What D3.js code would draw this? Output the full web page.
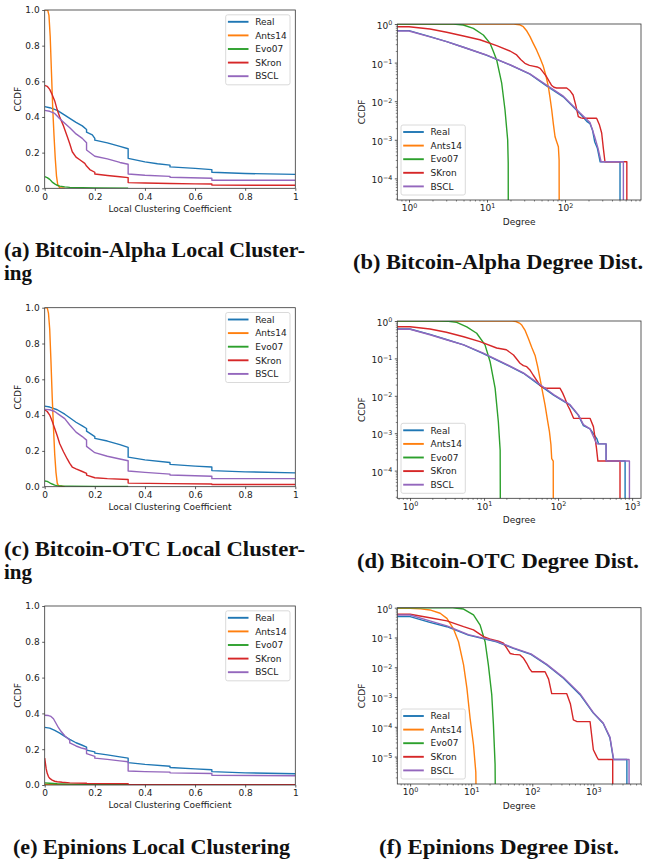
<!DOCTYPE html>
<html>
<head>
<meta charset="utf-8">
<script src="https://cdn.jsdelivr.net/npm/d3@7"></script>
<style>
body { margin: 0; background: #fff; }
svg { display: block; }
text { font-family: "DejaVu Sans", sans-serif; }
</style>
</head>
<body>
<svg id="fig" width="652" height="861"></svg>
<script>
var seriesNames = ["Real", "Ants14", "Evo07", "SKron", "BSCL"]
var seriesColors = ["#1f77b4", "#ff7f0e", "#2ca02c", "#d62728", "#9467bd"]

var lccTicks = [0, 0.2, 0.4, 0.6, 0.8, 1]
var lccTickLabelsX = ["0", "0.2", "0.4", "0.6", "0.8", "1"]
var lccTickLabelsY = ["0.0", "0.2", "0.4", "0.6", "0.8", "1.0"]

// (a) Bitcoin-Alpha local clustering, [coefficient, ccdf]
var alphaLccReal = [[0,0.458],[0.02,0.452],[0.05,0.437],[0.08,0.41],[0.1,0.392],[0.125,0.37],[0.15,0.35],[0.167,0.33],[0.167,0.315],[0.19,0.3],[0.2,0.28],[0.2,0.27],[0.25,0.255],[0.3,0.235],[0.333,0.222],[0.333,0.168],[0.4,0.148],[0.45,0.138],[0.5,0.13],[0.5,0.12],[0.6,0.112],[0.667,0.105],[0.667,0.09],[0.8,0.083],[1,0.078]]
var alphaLccAnts = [[0,1],[0.012,1],[0.017,0.97],[0.022,0.85],[0.027,0.65],[0.032,0.45],[0.037,0.3],[0.042,0.17],[0.047,0.07],[0.052,0.02],[0.06,0.003],[0.08,0]]
var alphaLccEvo = [[0,0.065],[0.01,0.06],[0.02,0.05],[0.03,0.035],[0.04,0.025],[0.05,0.017],[0.06,0.012],[0.08,0.008],[0.1,0.005],[0.15,0.003],[0.2,0.002],[0.333,0.001]]
var alphaLccSKron = [[0,0.577],[0.01,0.572],[0.02,0.555],[0.03,0.525],[0.04,0.49],[0.05,0.44],[0.06,0.4],[0.075,0.35],[0.09,0.29],[0.1,0.25],[0.11,0.205],[0.125,0.175],[0.14,0.16],[0.16,0.14],[0.167,0.125],[0.18,0.105],[0.2,0.09],[0.2,0.08],[0.25,0.072],[0.3,0.065],[0.333,0.06],[0.333,0.032],[0.4,0.03],[0.5,0.027],[0.6,0.025],[0.667,0.024],[0.667,0.018],[1,0.017]]
var alphaLccBSCL = [[0,0.437],[0.02,0.432],[0.04,0.42],[0.06,0.39],[0.08,0.365],[0.1,0.34],[0.125,0.305],[0.15,0.28],[0.167,0.255],[0.167,0.215],[0.2,0.18],[0.25,0.165],[0.3,0.145],[0.333,0.135],[0.333,0.08],[0.4,0.073],[0.5,0.067],[0.5,0.062],[0.667,0.056],[0.667,0.045],[1,0.045]]

// (b) Bitcoin-Alpha degree, [degree, ccdf]
var alphaDegReal = [[0.5,0.675],[1,0.675],[1.86,0.47],[3.04,0.35],[5,0.25],[9.6,0.158],[19.7,0.087],[35.5,0.05],[58,0.025],[95,0.013],[155,0.0048],[190,0.003],[209,0.0026],[225,0.0018],[240,8.9e-4],[260,6e-4],[282,2.7e-4],[507,2.7e-4],[507,1e-7]]
var alphaDegAnts = [[0.5,1],[22,1],[26,0.96],[29.2,0.85],[32,0.68],[35.6,0.47],[39,0.32],[43.3,0.21],[48,0.13],[52.7,0.08],[57,0.045],[61.1,0.024],[64,0.013],[67.5,0.006],[71,0.0025],[74.5,0.0012],[78,9e-4],[82.2,6.6e-4],[84,3e-4],[84.6,1e-7]]
var alphaDegEvo = [[0.5,1],[3.7,1],[4.97,0.94],[6.68,0.77],[8.97,0.52],[10.9,0.32],[12,0.2],[13.3,0.117],[15.4,0.03],[17,0.006],[18.4,0.001],[18.7,2.5e-4],[18.8,1e-7]]
var alphaDegSKron = [[0.5,0.85],[1,0.85],[1.86,0.74],[3.04,0.61],[5,0.49],[8.1,0.39],[13.3,0.275],[19.7,0.2],[24,0.158],[27,0.12],[30.6,0.096],[35,0.085],[39,0.081],[44,0.077],[48,0.071],[53,0.055],[58,0.043],[63,0.032],[67,0.026],[72,0.023],[78,0.022],[105,0.022],[115,0.019],[127,0.0145],[137,0.008],[148,0.004],[160,0.0037],[171,0.0036],[254,0.0036],[275,0.0025],[295,0.0015],[310,6e-4],[325,2.7e-4],[620,2.7e-4],[620,1e-7]]
var alphaDegBSCL = [[0.5,0.66],[1,0.66],[1.86,0.465],[3.04,0.348],[5,0.25],[9.6,0.16],[19.7,0.088],[35.5,0.051],[58,0.026],[95,0.0135],[155,0.005],[209,0.0028],[240,0.0012],[265,6e-4],[290,2.7e-4],[560,2.7e-4],[560,1e-7]]

// (c) Bitcoin-OTC local clustering
var otcLccReal = [[0,0.45],[0.02,0.445],[0.05,0.43],[0.08,0.405],[0.1,0.385],[0.125,0.36],[0.15,0.34],[0.167,0.325],[0.167,0.31],[0.2,0.28],[0.2,0.27],[0.25,0.255],[0.3,0.235],[0.333,0.22],[0.333,0.165],[0.4,0.15],[0.5,0.135],[0.5,0.125],[0.6,0.115],[0.667,0.11],[0.667,0.09],[0.8,0.083],[1,0.077]]
var otcLccAnts = [[0,1],[0.01,1],[0.015,0.97],[0.02,0.88],[0.025,0.7],[0.03,0.5],[0.035,0.33],[0.04,0.18],[0.045,0.08],[0.05,0.02],[0.055,0.005],[0.08,0]]
var otcLccEvo = [[0,0.032],[0.01,0.03],[0.02,0.022],[0.03,0.015],[0.04,0.009],[0.05,0.006],[0.07,0.004],[0.1,0.003],[0.2,0.002],[0.333,0.001]]
var otcLccSKron = [[0,0.43],[0.01,0.42],[0.02,0.4],[0.03,0.365],[0.04,0.325],[0.05,0.285],[0.06,0.24],[0.075,0.195],[0.09,0.155],[0.1,0.13],[0.11,0.11],[0.125,0.1],[0.15,0.085],[0.167,0.075],[0.167,0.065],[0.2,0.05],[0.25,0.045],[0.333,0.04],[0.333,0.02],[0.5,0.017],[0.667,0.015],[0.667,0.012],[1,0.012]]
var otcLccBSCL = [[0,0.432],[0.02,0.43],[0.04,0.42],[0.06,0.4],[0.08,0.38],[0.1,0.345],[0.125,0.305],[0.15,0.28],[0.167,0.26],[0.167,0.225],[0.2,0.19],[0.25,0.17],[0.3,0.155],[0.333,0.145],[0.333,0.088],[0.4,0.08],[0.5,0.07],[0.5,0.065],[0.667,0.058],[0.667,0.045],[1,0.045]]

// (d) Bitcoin-OTC degree
var otcDegReal = [[0.5,0.61],[1,0.61],[1.86,0.44],[3.1,0.32],[5.3,0.23],[9.6,0.136],[18.3,0.074],[34,0.04],[57,0.019],[87,0.0104],[145,0.0056],[188,0.003],[220,0.0016],[270,0.0013],[333,7.2e-4],[352,5.2e-4],[445,5.2e-4],[445,1.8e-4],[804,1.8e-4],[804,1e-7]]
var otcDegAnts = [[0.5,1],[24,1],[27,0.97],[30,0.88],[32.3,0.78],[36,0.55],[39.7,0.34],[44,0.2],[48.9,0.12],[53,0.06],[57,0.029],[62,0.012],[66.7,0.0056],[72,0.0022],[76.4,0.0011],[80,5e-4],[82,2.1e-4],[86,1.8e-4],[86.5,1e-7]]
var otcDegEvo = [[0.5,1],[2.5,1],[3.3,0.98],[4.27,0.92],[5.84,0.7],[7.95,0.47],[10.3,0.23],[12.1,0.08],[14.1,0.016],[15.6,0.002],[16.5,3.5e-4],[16.7,1e-7]]
var otcDegSKron = [[0.5,0.7],[1,0.7],[1.86,0.61],[3.1,0.5],[5.3,0.38],[8.8,0.28],[14.8,0.19],[20,0.17],[25,0.123],[30.6,0.074],[34,0.064],[37.7,0.06],[42,0.048],[46,0.036],[52,0.025],[57,0.019],[63,0.0165],[70,0.016],[106,0.016],[115,0.012],[124,0.0085],[135,0.0055],[145,0.0042],[162,0.0025],[270,0.0025],[300,0.0015],[330,4e-4],[345,1.8e-4],[686,1.8e-4],[686,1e-7]]
var otcDegBSCL = [[0.5,0.6],[1,0.6],[1.86,0.43],[3.1,0.315],[5.3,0.23],[9.6,0.14],[18.3,0.076],[34,0.041],[57,0.02],[87,0.0108],[145,0.0058],[188,0.0031],[220,0.0017],[270,0.0013],[333,5.2e-4],[445,5.2e-4],[445,1.8e-4],[920,1.8e-4],[920,1e-7]]

// (e) Epinions local clustering
var epiLccReal = [[0,0.322],[0.02,0.318],[0.04,0.305],[0.06,0.29],[0.08,0.272],[0.1,0.255],[0.125,0.236],[0.15,0.222],[0.167,0.212],[0.167,0.195],[0.2,0.185],[0.2,0.178],[0.25,0.168],[0.3,0.157],[0.333,0.15],[0.333,0.125],[0.4,0.115],[0.5,0.105],[0.5,0.098],[0.6,0.09],[0.667,0.085],[0.667,0.075],[0.8,0.068],[1,0.063]]
var epiLccAnts = [[0,0.004],[0.05,0.002],[0.1,0.001],[0.2,0]]
var epiLccEvo = [[0,0.012],[0.02,0.01],[0.05,0.007],[0.1,0.005],[0.167,0.004],[0.2,0.003],[0.333,0.003]]
var epiLccSKron = [[0,0.15],[0.003,0.12],[0.006,0.09],[0.01,0.065],[0.015,0.047],[0.02,0.037],[0.03,0.027],[0.04,0.021],[0.05,0.018],[0.07,0.015],[0.1,0.012],[0.167,0.01],[0.167,0.008],[0.333,0.007],[0.333,0.003],[1,0.002]]
var epiLccBSCL = [[0,0.39],[0.015,0.388],[0.025,0.383],[0.035,0.37],[0.045,0.345],[0.055,0.32],[0.065,0.3],[0.08,0.275],[0.1,0.25],[0.1,0.235],[0.125,0.218],[0.15,0.205],[0.167,0.2],[0.167,0.175],[0.2,0.16],[0.2,0.15],[0.25,0.143],[0.3,0.135],[0.333,0.13],[0.333,0.078],[0.4,0.075],[0.5,0.072],[0.5,0.068],[0.667,0.064],[0.667,0.054],[1,0.052]]

// (f) Epinions degree
var epiDegReal = [[0.5,0.5],[1,0.5],[2.1,0.32],[4,0.23],[9,0.12],[26,0.072],[49,0.043],[95,0.027],[173,0.012],[324,0.0043],[605,0.0012],[1000,2.9e-4],[1450,1.3e-4],[1870,4.2e-5],[2130,8e-6],[3540,8e-6],[3540,1e-8]]
var epiDegAnts = [[0.5,0.95],[1,0.95],[1.5,0.91],[2.1,0.84],[3.1,0.65],[4,0.44],[5.1,0.2],[6.2,0.072],[7.5,0.012],[8.5,0.002],[9.6,1.9e-4],[10.9,2.5e-5],[11.9,3e-6],[12.3,1e-8]]
var epiDegEvo = [[0.5,1],[5,1],[7.5,0.9],[10.9,0.57],[14,0.26],[16.9,0.072],[19.1,0.012],[21.7,0.0012],[23.1,1.2e-4],[24.6,5.5e-6],[25.2,1e-8]]
var epiDegSKron = [[0.5,0.6],[1,0.6],[2.1,0.46],[4,0.36],[7.5,0.23],[10.9,0.18],[15.9,0.107],[20,0.09],[23.1,0.083],[28,0.075],[33.7,0.064],[38,0.045],[43.4,0.029],[50,0.027],[63,0.026],[72,0.02],[81,0.0136],[90,0.009],[98,0.0071],[162,0.0071],[185,0.004],[208,0.0013],[230,0.0013],[367,0.0013],[420,6e-4],[471,1.7e-4],[540,1.5e-4],[883,1.5e-4],[940,5e-5],[1000,1.7e-5],[1135,1e-5],[1208,8e-6],[2075,8e-6],[2075,1e-8]]
var epiDegBSCL = [[0.5,0.57],[1,0.57],[2.1,0.36],[4,0.245],[9,0.125],[26,0.074],[49,0.045],[95,0.028],[173,0.0125],[324,0.0045],[605,0.0013],[1000,3e-4],[1450,1.35e-4],[1870,4.5e-5],[2150,8e-6],[3840,8e-6],[3840,1e-8]]

var captionLines = [
    "(a) Bitcoin-Alpha Local Cluster-", "ing",
    "(b) Bitcoin-Alpha Degree Dist.",
    "(c) Bitcoin-OTC Local Cluster-", "ing",
    "(d) Bitcoin-OTC Degree Dist.",
    "(e) Epinions Local Clustering",
    "(f) Epinions Degree Dist."
]

var svg = d3.select("#fig")
var fontSize = 9

function drawPanel(p, idx) {
    var w = p.box[2] - p.box[0], h = p.box[3] - p.box[1]
    var g = svg.append("g").attr("transform", `translate(${p.box[0]},${p.box[1]})`)
    var x, y
    if (p.kind == "lin") {
        x = d3.scaleLinear().domain([0, 1]).range([0, w])
        y = d3.scaleLinear().domain([0, 1]).range([h, 0])
    } else {
        x = d3.scaleLog().domain([Math.pow(10, p.xExp[0]), Math.pow(10, p.xExp[1])]).range([0, w])
        y = d3.scaleLog().domain([Math.pow(10, p.yExp[0]), 1]).range([h, 0])
    }

    g.append("clipPath").attr("id", "clip" + idx)
     .append("rect").attr("width", w).attr("height", h)

    var xAxis, yAxis
    if (p.kind == "lin") {
        xAxis = d3.axisBottom(x).tickValues(lccTicks).tickFormat((d, i) => lccTickLabelsX[i])
        yAxis = d3.axisLeft(y).tickValues(lccTicks).tickFormat((d, i) => lccTickLabelsY[i])
    } else {
        var xMaj = d3.range(Math.ceil(p.xExp[0]), Math.floor(p.xExp[1]) + 1)
        var yMaj = d3.range(Math.ceil(p.yExp[0]), 1)
        xAxis = d3.axisBottom(x).tickValues(xMaj.map(e => Math.pow(10, e))).tickFormat("")
        yAxis = d3.axisLeft(y).tickValues(yMaj.map(e => Math.pow(10, e))).tickFormat("")
        // minor ticks
        var minor = (lo, hi) => {
            var out = []
            for (var e = Math.floor(lo); e <= Math.ceil(hi); e++)
                for (var m = 2; m < 10; m++) {
                    var v = m * Math.pow(10, e)
                    if (Math.log10(v) >= lo && Math.log10(v) <= hi) out.push(v)
                }
            return out
        }
        g.append("g").attr("transform", `translate(0,${h})`)
         .call(d3.axisBottom(x).tickValues(minor(p.xExp[0], p.xExp[1])).tickSize(1.5).tickFormat(""))
         .call(a => a.select(".domain").remove())
         .selectAll("line").attr("stroke", "#333").attr("stroke-width", 0.6)
        g.append("g")
         .call(d3.axisLeft(y).tickValues(minor(p.yExp[0], 0)).tickSize(1.5).tickFormat(""))
         .call(a => a.select(".domain").remove())
         .selectAll("line").attr("stroke", "#333").attr("stroke-width", 0.6)
    }

    var gx = g.append("g").attr("transform", `translate(0,${h})`)
              .call(xAxis.tickSize(2.5).tickPadding(2.5))
    var gy = g.append("g").call(yAxis.tickSize(2.5).tickPadding(2.5))
    ;[gx, gy].forEach(a => {
        a.select(".domain").remove()
        a.selectAll("line").attr("stroke", "#333").attr("stroke-width", 0.8)
        a.selectAll("text").attr("font-size", fontSize).attr("fill", "#222")
         .style("font-family", "'DejaVu Sans', sans-serif")
    })

    if (p.kind == "log") {
        var supLabel = function (d) {
            var e = Math.round(Math.log10(d))
            var t = d3.select(this)
            t.text(null)
            t.append("tspan").text("10")
            t.append("tspan").attr("dy", -3.6).attr("font-size", 6.4)
             .text(e < 0 ? "\u2212" + (-e) : String(e))
        }
        gx.selectAll(".tick text").each(supLabel)
        gy.selectAll(".tick text").each(supLabel).attr("dy", "0.5em")
    }

    // curves
    var line = d3.line().x(d => x(d[0])).y(d => y(Math.max(d[1], 1e-12)))
    var curves = g.append("g").attr("clip-path", `url(#clip${idx})`)
    p.data.forEach((s, i) => {
        curves.append("path").datum(s)
              .attr("d", line)
              .attr("fill", "none")
              .attr("stroke", seriesColors[i])
              .attr("stroke-width", 1.4)
              .attr("stroke-linejoin", "round")
    })

    // frame
    g.append("rect").attr("width", w).attr("height", h)
     .attr("fill", "none").attr("stroke", "#333").attr("stroke-width", 0.8)

    // axis titles
    g.append("text").attr("x", w / 2).attr("y", h + (p.kind == "lin" ? 23.3 : 25))
     .attr("text-anchor", "middle").attr("font-size", fontSize).attr("fill", "#222")
     .text(p.xlabel)
    var yl = p.kind == "lin" ? -26.4 : -35.6
    g.append("text").attr("transform", `translate(${yl},${h / 2}) rotate(-90)`)
     .attr("text-anchor", "middle").attr("dy", "0.35em")
     .attr("font-size", fontSize).attr("fill", "#222").text("CCDF")

    // legend
    var lw = 64.3, lh = 70
    var lx = p.legend == "tr" ? w - 5.3 - lw : 3.7
    var ly = p.legend == "tr" ? 4.8 : h - 5 - lh
    var lg = g.append("g").attr("transform", `translate(${lx},${ly})`)
    lg.append("rect").attr("width", lw).attr("height", lh).attr("rx", 2)
      .attr("fill", "white").attr("fill-opacity", 0.8)
      .attr("stroke", "#d0d0d0").attr("stroke-width", 0.8)
    seriesNames.forEach((name, i) => {
        var ry = 7 + i * 13.6
        lg.append("line").attr("x1", 2.2).attr("x2", 22.8).attr("y1", ry).attr("y2", ry)
          .attr("stroke", seriesColors[i]).attr("stroke-width", 1.9)
        lg.append("text").attr("x", 29.5).attr("y", ry).attr("dy", "0.36em")
          .attr("font-size", fontSize).attr("fill", "#222").text(name)
    })
}

var panels = [
    {box: [44.7, 10, 295.3, 188.3], kind: "lin", legend: "tr", xlabel: "Local Clustering Coefficient",
     data: [alphaLccReal, alphaLccAnts, alphaLccEvo, alphaLccSKron, alphaLccBSCL]},
    {box: [397.3, 24, 641, 200], kind: "log", xExp: [-0.15, 2.974], yExp: [-4.56, 0], legend: "bl", xlabel: "Degree",
     data: [alphaDegReal, alphaDegAnts, alphaDegEvo, alphaDegSKron, alphaDegBSCL]},
    {box: [44.7, 307.7, 295.3, 486.7], kind: "lin", legend: "tr", xlabel: "Local Clustering Coefficient",
     data: [otcLccReal, otcLccAnts, otcLccEvo, otcLccSKron, otcLccBSCL]},
    {box: [397.3, 321, 641, 498.3], kind: "log", xExp: [-0.172, 3.12], yExp: [-4.74, 0], legend: "bl", xlabel: "Degree",
     data: [otcDegReal, otcDegAnts, otcDegEvo, otcDegSKron, otcDegBSCL]},
    {box: [44.7, 606, 295.3, 785], kind: "lin", legend: "tr", xlabel: "Local Clustering Coefficient",
     data: [epiLccReal, epiLccAnts, epiLccEvo, epiLccSKron, epiLccBSCL]},
    {box: [397.3, 607.7, 641, 784], kind: "log", xExp: [-0.21, 3.78], yExp: [-5.92, 0], legend: "bl", xlabel: "Degree",
     data: [epiDegReal, epiDegAnts, epiDegEvo, epiDegSKron, epiDegBSCL]}
]

panels.forEach(drawPanel)

// sub-captions
var capStyle = sel => sel.style("font-family", "'Liberation Serif', serif")
                         .attr("font-weight", "bold").attr("font-size", 21).attr("fill", "#111")
var capPos = [
    {x: 4, y: 257, len: 301},
    {x: 4, y: 280},
    {x: 353, y: 269, len: 290},
    {x: 4, y: 556, len: 301},
    {x: 4, y: 579},
    {x: 357, y: 568, len: 282},
    {x: 13, y: 854, len: 277},
    {x: 379, y: 854, len: 240}
]
captionLines.forEach((c, i) => {
    var t = svg.append("text").attr("x", capPos[i].x).attr("y", capPos[i].y).text(c).call(capStyle)
    if (capPos[i].len) t.attr("textLength", capPos[i].len).attr("lengthAdjust", "spacingAndGlyphs")
})
</script>
</body>
</html>
